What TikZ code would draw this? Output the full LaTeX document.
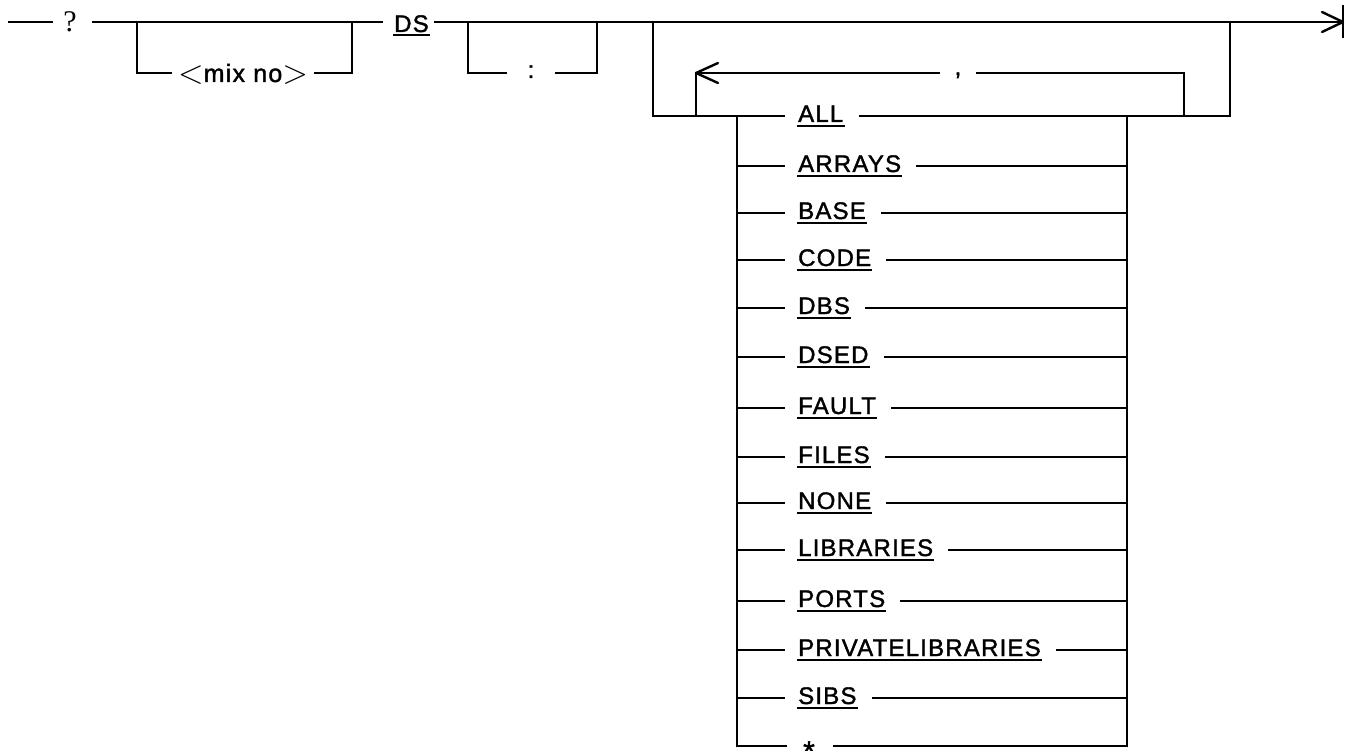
\documentclass[tikz,border=0pt]{standalone}
\usepackage{graphicx}
\usepackage{fontspec}
\setmainfont{Liberation Sans}[LetterSpace=5,FakeBold=1.5]
\newfontfamily\qfont{Liberation Serif}
\newcommand\kwsize{\fontsize{24}{28}\selectfont}
\newcommand\angl[1]{\raisebox{-1.5pt}{\scalebox{1.35}{$#1$}}}
\begin{document}
\begin{tikzpicture}[x=1pt,y=-1pt,line width=2.4pt,line join=miter,
  kw/.style={anchor=base west,inner sep=0pt,font=\kwsize},
  sym/.style={anchor=base,inner ysep=0pt,font=\kwsize},
  ul/.style={line width=2pt},
  tip/.style={line join=round,line cap=round}]
\useasboundingbox (0,0) rectangle (1354,751);
% start
\coordinate (s0) at (8,22);
\coordinate (s1) at (53,22);
\node[anchor=base,inner sep=0pt,font=\fontsize{30}{32}\qfont] (q) at (70,32) {?};
\coordinate (a) at (92,22);
\draw (s0) -- (s1);
% optional mix no
\coordinate (mL) at (137,22);
\coordinate (mR) at (352,22);
\coordinate (mb) at (0,73);
\node[sym,inner xsep=5pt,font=\fontsize{25}{28}\selectfont] (mix) at (243,82) {\angl{<}mix no\angl{>}};
\draw (mL) |- (mix.west |- mb);
\draw (mix.east |- mb) -| (mR);
% DS
\node[kw] (ds) at (393,32) {DS};
\draw[ul] ([yshift=-3pt]ds.base west) -- ([yshift=-3pt]ds.base east);
\draw (a) -- ([xshift=-10pt]ds.base west |- a);
\coordinate (E) at (1343,22);
\coordinate (Ea) at (1322,12);
\coordinate (Eb) at (1322,32);
\coordinate (Et) at (1343,5);
\coordinate (Eu) at (1343,38);
\draw ([xshift=4pt]ds.base east |- a) -- (E);
\draw[tip] (Ea) -- (E) -- (Eb);
\draw (Et) -- (Eu);
% optional colon
\coordinate (cL) at (468,22);
\coordinate (cR) at (597,22);
\coordinate (cb) at (0,73);
\node[sym,inner xsep=19pt] (col) at (531,78) {:};
\draw (cL) |- (col.west |- cb);
\draw (col.east |- cb) -| (cR);
% big bracket and loop
\coordinate (bL) at (653,22);
\coordinate (bR) at (1230,22);
\coordinate (pA) at (696,73);
\coordinate (pL) at (696,116);
\coordinate (pR) at (1184,116);
\coordinate (pa1) at (718,63);
\coordinate (pa2) at (718,83);
\node[sym,inner xsep=13pt] (cm) at (958,75) {,};
\draw (pL) -- (pA) -- (cm.west |- pA);
\draw (cm.east |- pA) -| (pR);
\draw[tip] (pa1) -- (pA) -- (pa2);
% rows
\foreach \t/\y [count=\i] in {ALL/116,ARRAYS/166,BASE/213,CODE/260,DBS/308,DSED/357,FAULT/408,FILES/457,NONE/503,LIBRARIES/550,PORTS/601,PRIVATELIBRARIES/650,SIBS/698}{
  \node[kw] (r\i) at (797,\y+6) {\t};
  \draw[ul] ([yshift=-4pt]r\i.base west) -- ([yshift=-4pt]r\i.base east);
  \coordinate (L\i) at (737,\y);
  \coordinate (R\i) at (1127,\y);
}
\foreach \i in {2,...,13}{
  \draw (L\i) -- ([xshift=-12pt]r\i.base west |- L\i);
  \draw ([xshift=14pt]r\i.base east |- R\i) -- (R\i);
}
\draw (bL) |- ([xshift=-12pt]r1.base west |- L1);
\draw ([xshift=14pt]r1.base east |- L1) -| (bR);
% last row *
\coordinate (L14) at (737,746);
\node[anchor=base,inner sep=0pt,font=\fontsize{30}{30}\selectfont] (st) at (809,746) {\smash{\raisebox{-16pt}{*}}};
\draw (L1) |- ([xshift=-22pt]st.base |- L14);
\draw ([xshift=24pt]st.base |- L14) -| (R1);
\end{tikzpicture}
\end{document}
